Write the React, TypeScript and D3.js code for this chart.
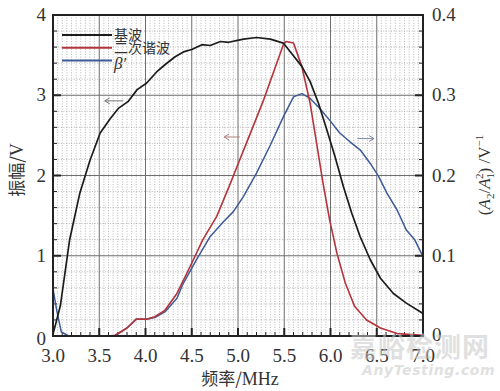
import React from "react";
import * as d3 from "d3";

// 基波 (left axis, V)
const baseFreq = [3.0, 3.08, 3.18, 3.29, 3.40, 3.51, 3.62, 3.71, 3.81, 3.91, 4.01, 4.12, 4.21, 4.32, 4.41, 4.50, 4.61, 4.70, 4.81, 4.90, 5.02, 5.06, 5.20, 5.35, 5.49, 5.58, 5.69, 5.78, 5.87, 5.96, 6.05, 6.14, 6.23, 6.32, 6.43, 6.54, 6.68, 6.82, 7.0];
const baseAmp = [0.02, 0.38, 1.2, 1.78, 2.19, 2.53, 2.71, 2.84, 2.92, 3.07, 3.15, 3.29, 3.38, 3.48, 3.54, 3.57, 3.63, 3.62, 3.67, 3.66, 3.69, 3.70, 3.72, 3.70, 3.65, 3.52, 3.36, 3.17, 2.90, 2.57, 2.23, 1.86, 1.53, 1.24, 0.95, 0.72, 0.53, 0.41, 0.28];

// 二次谐波 (left axis, V)
const harmFreq = [3.6, 3.67, 3.80, 3.90, 4.01, 4.10, 4.21, 4.34, 4.48, 4.62, 4.77, 4.91, 5.02, 5.09, 5.27, 5.49, 5.52, 5.60, 5.69, 5.78, 5.85, 5.92, 5.99, 6.07, 6.16, 6.26, 6.39, 6.54, 6.72, 7.0];
const harmAmp = [0, 0.01, 0.10, 0.21, 0.21, 0.24, 0.32, 0.53, 0.86, 1.20, 1.49, 1.88, 2.20, 2.40, 2.92, 3.63, 3.67, 3.65, 3.36, 2.90, 2.40, 1.90, 1.45, 1.03, 0.66, 0.37, 0.20, 0.10, 0.03, 0.01];

// β' (right axis, V^-1)
const betaFreq = [3.0, 3.04, 3.09, 3.17, 3.67, 3.80, 3.90, 4.01, 4.10, 4.21, 4.34, 4.41, 4.55, 4.70, 4.84, 4.95, 5.06, 5.20, 5.35, 5.49, 5.60, 5.69, 5.78, 5.88, 5.99, 6.10, 6.21, 6.32, 6.43, 6.52, 6.61, 6.72, 6.82, 6.91, 7.0];
const betaVal = [0.059, 0.032, 0.005, 0, 0, 0.010, 0.021, 0.021, 0.023, 0.030, 0.047, 0.066, 0.095, 0.124, 0.142, 0.155, 0.174, 0.203, 0.238, 0.273, 0.298, 0.302, 0.296, 0.284, 0.269, 0.253, 0.242, 0.232, 0.215, 0.199, 0.178, 0.157, 0.132, 0.120, 0.099];

const xTicks = [3.0, 3.5, 4.0, 4.5, 5.0, 5.5, 6.0, 6.5, 7.0];
const yLeftTicks = [0, 1, 2, 3, 4];
const yRightTicks = [0, 0.1, 0.2, 0.3, 0.4];
const legendLabels = ["基波", "二次谐波", "β"];

const W = 500, H = 391;
const L = 53, R = 423, T = 15, B = 336;

export default function App() {
  const x = d3.scaleLinear().domain([3, 7]).range([L, R]);
  const yL = d3.scaleLinear().domain([0, 4]).range([B, T]);
  const yR = d3.scaleLinear().domain([0, 0.4]).range([B, T]);

  const black = "#1c1c1c", red = "#b5343c", blue = "#3c5b98";
  const serif = "'Liberation Serif', 'DejaVu Serif', serif";
  const cjk = "'Noto Sans CJK SC', sans-serif";

  const lineL = d3.line<[number, number]>().x(d => x(d[0])).y(d => yL(d[1]));
  const lineR = d3.line<[number, number]>().x(d => x(d[0])).y(d => yR(d[1]));
  const basePts = baseFreq.map((f, i) => [f, baseAmp[i]] as [number, number]);
  const harmPts = harmFreq.map((f, i) => [f, harmAmp[i]] as [number, number]);
  const betaPts = betaFreq.map((f, i) => [f, betaVal[i]] as [number, number]);

  const minorX = d3.range(0, 81).map(i => 3 + i * 0.05).filter(v => Math.abs((v * 2) - Math.round(v * 2)) > 1e-6);
  const tickX = d3.range(0, 41).map(i => 3 + i * 0.1);
  const minorY = d3.range(0, 21).map(i => i * 0.2);
  const majorX = xTicks.slice(1, -1);
  const majorY = [1, 2, 3];

  const arrow = (x1: number, x2: number, y: number, color: string) => {
    const dir = x2 > x1 ? 1 : -1;
    return (
      <g stroke={color} strokeWidth={1} fill="none">
        <line x1={x1} y1={y} x2={x2} y2={y} />
        <path d={`M${x2 - dir * 5},${y - 3} L${x2},${y} L${x2 - dir * 5},${y + 3}`} />
      </g>
    );
  };

  return (
    <svg width={W} height={H} style={{ position: "absolute", left: 0, top: 0, background: "#fff" }}>
      <rect x={0} y={0} width={W} height={H} fill="#fff" />
      {/* minor grid */}
      <g stroke="#9a9a9a" strokeWidth={0.7} strokeDasharray="1,1.6">
        {minorX.map((v, i) => <line key={"mx" + i} x1={x(v)} x2={x(v)} y1={T} y2={B} />)}
        {minorY.filter(v => Math.abs(v - Math.round(v)) > 1e-6).map((v, i) => <line key={"my" + i} x1={L} x2={R} y1={yL(v)} y2={yL(v)} />)}
      </g>
      {/* major grid */}
      <g stroke="#6e6e6e" strokeWidth={1}>
        {majorX.map((v, i) => <line key={"Mx" + i} x1={x(v)} x2={x(v)} y1={T} y2={B} />)}
        {majorY.map((v, i) => <line key={"My" + i} x1={L} x2={R} y1={yL(v)} y2={yL(v)} />)}
      </g>
      {/* ticks */}
      <g stroke="#222">
        {tickX.map((v, i) => {
          const major = Math.abs(v * 2 - Math.round(v * 2)) < 1e-6;
          return <line key={"tx" + i} x1={x(v)} x2={x(v)} y1={B} y2={B - (major ? 8 : 4)} strokeWidth={major ? 2 : 1} />;
        })}
        {minorY.map((v, i) => {
          const major = Math.abs(v - Math.round(v)) < 1e-6;
          return (
            <g key={"ty" + i}>
              <line x1={L} x2={L + (major ? 8 : 4)} y1={yL(v)} y2={yL(v)} strokeWidth={major ? 2 : 1} />
              <line x1={R} x2={R - (major ? 8 : 4)} y1={yL(v)} y2={yL(v)} strokeWidth={major ? 2 : 1} />
            </g>
          );
        })}
      </g>
      {/* curves */}
      <path d={lineR(betaPts) || ""} fill="none" stroke={blue} strokeWidth={1.5} strokeLinejoin="round" />
      <path d={lineL(harmPts) || ""} fill="none" stroke={red} strokeWidth={1.6} strokeLinejoin="round" />
      <path d={lineL(basePts) || ""} fill="none" stroke={black} strokeWidth={1.7} strokeLinejoin="round" />
      {/* frame */}
      <rect x={L} y={T} width={R - L} height={B - T} fill="none" stroke="#222" strokeWidth={2} />
      {/* annotation arrows */}
      {arrow(x(3.76), x(3.56), yL(2.93), "#777")}
      {arrow(x(5.02), x(4.85), yL(2.48), "#b08080")}
      {arrow(x(6.29), x(6.47), yL(2.46), "#7d8aaa")}
      {/* legend */}
      <g>
        {[black, red, blue].map((c, i) => (
          <line key={"lg" + i} x1={62} x2={112} y1={35 + i * 12.8} y2={35 + i * 12.8} stroke={c} strokeWidth={2} />
        ))}
        <text x={114} y={40} fontFamily={cjk} fontSize={14} fill="#333">{legendLabels[0]}</text>
        <text x={114} y={52.5} fontFamily={cjk} fontSize={14} fill="#333">{legendLabels[1]}</text>
        <text x={114} y={69} fontFamily={serif} fontSize={17} fontStyle="italic" fill="#333">{legendLabels[2]}<tspan fontStyle="normal" dx={1}>′</tspan></text>
      </g>
      {/* tick labels */}
      <g fontFamily={serif} fontSize={19} fill="#333">
        {xTicks.map((v, i) => (
          <text key={"xl" + i} x={x(v)} y={362} textAnchor="middle">{v.toFixed(1)}</text>
        ))}
        {yLeftTicks.map((v, i) => (
          <text key={"yl" + i} x={46} y={yL(v) + (v === 0 ? 9 : 6)} textAnchor="end">{v}</text>
        ))}
        {yRightTicks.map((v, i) => (
          <text key={"yr" + i} x={432} y={yR(v) + (v === 0 ? 5 : 6)} textAnchor="start">{v === 0 ? "0" : v.toFixed(1)}</text>
        ))}
      </g>
      {/* axis titles */}
      <text x={240} y={385} textAnchor="middle" fontFamily={cjk} fontSize={17} fill="#333">
        频率/<tspan fontFamily={serif} fontSize={18}>MHz</tspan>
      </text>
      <text transform="translate(23,170) rotate(-90)" textAnchor="middle" fontFamily={cjk} fontSize={17} fill="#333">
        振幅/<tspan fontFamily={serif} fontSize={18}>V</tspan>
      </text>
      <text transform="translate(490,175) rotate(-90)" textAnchor="middle" fontFamily={serif} fontSize={17} fill="#333">
        (<tspan fontStyle="italic">A</tspan><tspan fontSize={11} dy={4}>2</tspan><tspan dy={-4}>/</tspan><tspan fontStyle="italic">A</tspan><tspan fontSize={11} dy={4}>1</tspan><tspan fontSize={11} dx={-6} dy={-11}>2</tspan><tspan dy={7}>) /V</tspan><tspan fontSize={11} dy={-7}>−1</tspan>
      </text>
      {/* watermark */}
      <g opacity={0.55}>
        <text x={350} y={357} fontFamily={cjk} fontSize={27} fontWeight="bold" fill="#c8c8c8" letterSpacing={1}>嘉峪检测网</text>
        <text x={362} y={375} fontFamily="'DejaVu Sans', sans-serif" fontSize={14} fontStyle="italic" fontWeight="bold" fill="#c8c8c8" letterSpacing={0.6}>AnyTesting.com</text>
      </g>
    </svg>
  );
}
